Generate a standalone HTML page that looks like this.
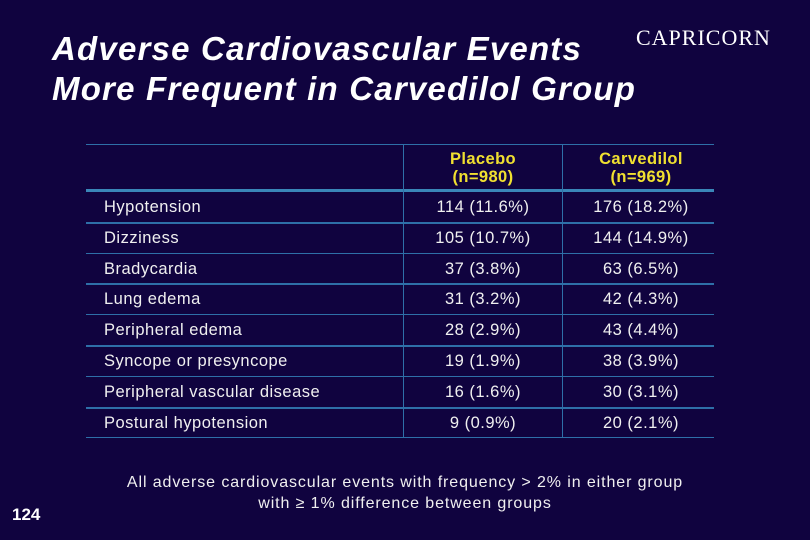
<!DOCTYPE html>
<html><head><meta charset="utf-8"><style>
body{margin:0;width:810px;height:540px;background:#10033f;overflow:hidden;position:relative;font-family:"Liberation Sans",sans-serif;color:#fff}
.a{position:absolute;white-space:nowrap}
.title{left:52px;font-size:33px;font-weight:bold;font-style:italic;letter-spacing:1.2px}
.hl{position:absolute;left:86px;width:628px;background:#2e6fa8}
.vl{position:absolute;top:144px;height:294px;width:1px;background:#2e6fa8}
.lab{left:104px;font-size:16.5px;color:#f0f0f0;letter-spacing:0.5px}
.c1,.c2{font-size:16.5px;color:#f0f0f0;width:158px;text-align:center;letter-spacing:0.5px}
.c1{left:404px}.c2{left:562px}
.hd{font-size:16.5px;font-weight:bold;color:#f0e030;text-align:center;width:158px;line-height:18px;letter-spacing:0.4px}
</style></head><body>
<div class="a title" style="top:30px">Adverse Cardiovascular Events</div>
<div class="a title" style="top:70px">More Frequent in Carvedilol Group</div>
<div class="a" style="left:636px;top:25px;font-family:'Liberation Serif',serif;font-size:22px;letter-spacing:1px">CAPRICORN</div>
<div>
<div class="hl" style="top:144px;height:1px"></div>
<div class="hl" style="top:189px;height:3px;background:#3a86b8"></div>
<div class="vl" style="left:403px"></div>
<div class="vl" style="left:562px"></div>
<div class="a hd" style="left:404px;top:150px">Placebo<br>(n=980)</div>
<div class="a hd" style="left:562px;top:150px">Carvedilol<br>(n=969)</div>
<div id="rows"></div>
</div>
<div class="a" style="left:0;width:810px;text-align:center;top:472px;font-size:16px;line-height:21px;color:#f0f0f0;letter-spacing:0.9px">All adverse cardiovascular events with frequency &gt; 2% in either group<br>with ≥ 1% difference between groups</div>
<div class="a" style="left:12px;top:505px;font-size:17px;font-weight:bold">124</div>
<script>
const labels=["Hypotension","Dizziness","Bradycardia","Lung edema","Peripheral edema","Syncope or presyncope","Peripheral vascular disease","Postural hypotension"];
const placebo=["114 (11.6%)","105 (10.7%)","37 (3.8%)","31 (3.2%)","28 (2.9%)","19 (1.9%)","16 (1.6%)","9 (0.9%)"];
const carvedilol=["176 (18.2%)","144 (14.9%)","63 (6.5%)","42 (4.3%)","43 (4.4%)","38 (3.9%)","30 (3.1%)","20 (2.1%)"];
const rows=document.getElementById('rows');
labels.forEach((l,i)=>{
 const y=192+i*30.8;
 const t=y+6;
 const mk=(cls,txt,name)=>{const d=document.createElement('div');d.className='a '+cls;d.style.top=t+'px';d.textContent=txt;
 
 
 rows.appendChild(d);};
 mk('lab',l,'row-label');
 mk('c1',placebo[i],'placebo-value');
 mk('c2',carvedilol[i],'carvedilol-value');
 const h=document.createElement('div');h.className='hl';h.style.top=(y+30.8-1)+'px';h.style.height=(i%2==0?'2px':'1px');
 
 
 rows.appendChild(h);
});
</script>
</body></html>
